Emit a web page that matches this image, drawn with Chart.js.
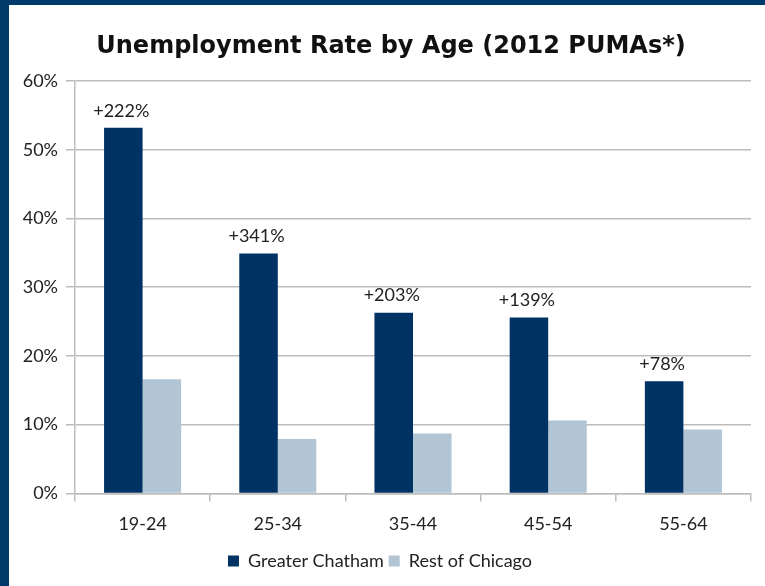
<!DOCTYPE html>
<html>
<head>
<meta charset="utf-8">
<script src="https://cdn.jsdelivr.net/npm/chart.js@4"></script>
<style>
  html, body { margin: 0; padding: 0; background: #fff; }
  #frame {
    width: 756px; height: 581px;
    border-top: 5px solid #003a6b;
    border-left: 9px solid #003a6b;
    background: #fff;
  }
  canvas { display: block; }
</style>
</head>
<body>
<div id="frame"><canvas id="chart" width="756" height="581"></canvas></div>
<script>
const TITLE = "Unemployment Rate by Age (2012 PUMAs*)";
const AGE_GROUPS = ["19-24", "25-34", "35-44", "45-54", "55-64"];
const CHATHAM = [53.2, 34.9, 26.3, 25.6, 16.3];
const REST_OF_CHICAGO = [16.6, 7.9, 8.7, 10.6, 9.3];
const GAP_LABELS = ["+222%", "+341%", "+203%", "+139%", "+78%"];
const Y_TICKS = [0, 10, 20, 30, 40, 50, 60];

const NAVY = "#003263";
const LIGHT = "#b2c5d5";
const GRID = "#bdbdbd";
const LABEL_FONT = "Lato, 'Open Sans', sans-serif";

// title sits a bit right of the canvas centre in the original, so draw it here
const titleText = {
  id: "titleText",
  afterDraw(chart) {
    const ctx = chart.ctx;
    ctx.save();
    ctx.fillStyle = "#111";
    ctx.font = "bold 24px 'DejaVu Sans', sans-serif";
    ctx.textAlign = "center";
    ctx.textBaseline = "middle";
    ctx.fillText(TITLE, 382, 42);
    ctx.restore();
  }
};

// draws the "+xxx%" labels over the Greater Chatham bars
const gapLabels = {
  id: "gapLabels",
  afterDatasetsDraw(chart) {
    const ctx = chart.ctx;
    const meta = chart.getDatasetMeta(0);
    ctx.save();
    ctx.fillStyle = "#222";
    ctx.font = "18px " + LABEL_FONT;
    ctx.textAlign = "center";
    ctx.textBaseline = "bottom";
    meta.data.forEach((bar, i) => {
      ctx.fillText(GAP_LABELS[i], bar.x - 2, bar.y - 8);
    });
    ctx.restore();
  }
};

const ctx = document.getElementById("chart").getContext("2d");
new Chart(ctx, {
  type: "bar",
  data: {
    labels: AGE_GROUPS,
    datasets: [{
      label: "Greater Chatham",
      data: CHATHAM,
      backgroundColor: NAVY,
      categoryPercentage: 0.57,
      barPercentage: 1.0
    }, {
      label: "Rest of Chicago",
      data: REST_OF_CHICAGO,
      backgroundColor: LIGHT,
      categoryPercentage: 0.57,
      barPercentage: 1.0
    }]
  },
  options: {
    responsive: false,
    animation: false,
    layout: { padding: { left: 0, right: 14, top: 76, bottom: 6 } },
    plugins: {
      title: { display: false },
      legend: {
        position: "bottom",
        labels: {
          color: "#222",
          font: { family: LABEL_FONT, size: 18 },
          boxWidth: 11,
          boxHeight: 11,
          padding: 5
        }
      },
      tooltip: { enabled: false }
    },
    scales: {
      x: {
        grid: { drawOnChartArea: false, color: GRID, lineWidth: 1.5, tickLength: 8 },
        border: { color: GRID, width: 1.5 },
        ticks: { color: "#222", font: { family: LABEL_FONT, size: 18 }, padding: 12 }
      },
      y: {
        min: 0,
        max: 60,
        afterFit(scale) { scale.width = 66; },
        afterBuildTicks(scale) { scale.ticks = Y_TICKS.map(v => ({ value: v })); },
        grid: { color: GRID, lineWidth: 1.5, tickLength: 9 },
        border: { color: GRID, width: 1.5 },
        ticks: {
          color: "#222",
          font: { family: LABEL_FONT, size: 18 },
          padding: 8,
          callback: v => v + "%"
        }
      }
    }
  },
  plugins: [titleText, gapLabels]
});
</script>
</body>
</html>
